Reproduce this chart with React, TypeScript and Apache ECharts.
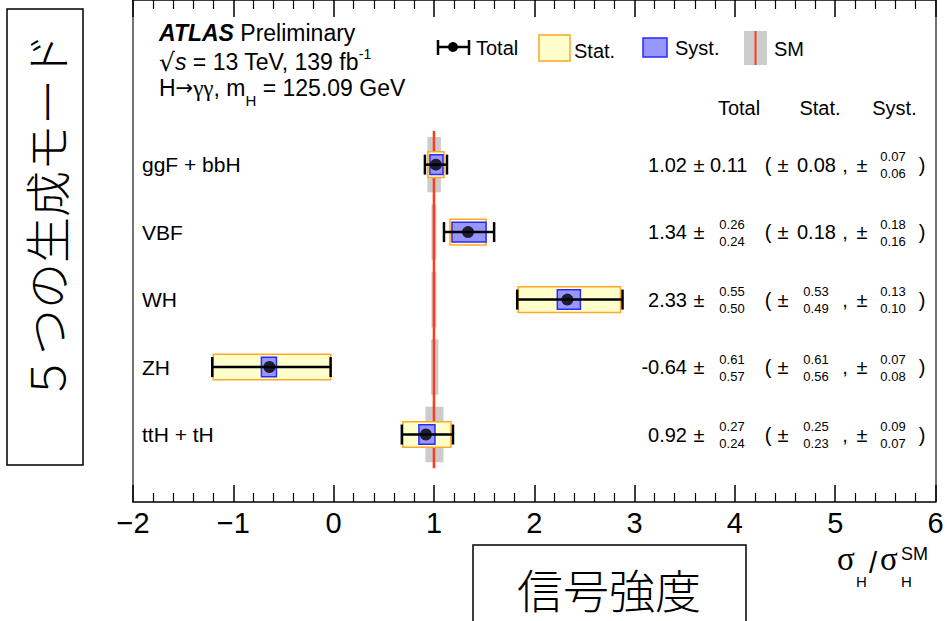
import React, { useEffect, useRef } from "react";
import * as echarts from "echarts";

// Production modes, top to bottom, and their row positions on the value y axis
const modes = ["ggF + bbH", "VBF", "WH", "ZH", "ttH + tH"];
const rowPos = [5, 4, 3, 2, 1];

// Measured signal strengths and their uncertainties
const mu = [1.02, 1.34, 2.33, -0.64, 0.92];
const totUp = [0.11, 0.26, 0.55, 0.61, 0.27];
const totDn = [0.11, 0.24, 0.5, 0.57, 0.24];
const statUp = [0.08, 0.18, 0.53, 0.61, 0.25];
const statDn = [0.08, 0.18, 0.49, 0.56, 0.23];
const systUp = [0.07, 0.18, 0.13, 0.07, 0.09];
const systDn = [0.06, 0.16, 0.1, 0.08, 0.07];

// SM prediction and its theory uncertainty band per mode
const smValue = 1;
const smUp = [0.07, 0.025, 0.025, 0.045, 0.095];
const smDn = [0.065, 0.025, 0.025, 0.03, 0.085];
const smLineSpan = [0.5, 5.5];

const xRange = [-2, 6];
const yRange = [0, 7.44];
const tableHeads = ["Total", "Stat.", "Syst."];

const FONT = "'Liberation Sans', Arial, Helvetica, sans-serif";
const SERIF = "'Liberation Serif', 'Times New Roman', serif";
const CJK = "'Noto Sans CJK JP', sans-serif";

const C_STAT_FILL = "#ffffcc";
const C_STAT_LINE = "#ffa726";
const C_SYST_FILL = "#9797ff";
const C_SYST_LINE = "#2a2aff";
const C_SM_BAND = "#cccccc";
const C_SM_LINE = "#ff3b1f";

const fmt = (v: number) => v.toFixed(2);

function box(api: any, x0: number, x1: number, yc: number, half: number) {
  const a = api.coord([x0, yc + half]);
  const b = api.coord([x1, yc - half]);
  return { x: a[0], y: a[1], width: b[0] - a[0], height: b[1] - a[1] };
}

function txt(text: string, x: number, y: number, size: number, align: string, extra: any = {}) {
  return {
    type: "text",
    x,
    y,
    silent: true,
    style: {
      text,
      fontSize: size,
      fontFamily: FONT,
      fill: "#000",
      align,
      verticalAlign: "middle",
      ...extra,
    },
  };
}

// "± a" when symmetric, stacked +up / -down otherwise
function plusMinus(up: number, dn: number, yc: number, symLeft: number, asymCenter: number) {
  if (up === dn) return [txt(fmt(up), symLeft, yc, 20, "left")];
  return [txt(fmt(up), asymCenter, yc - 8, 13, "center"), txt(fmt(dn), asymCenter, yc + 9, 13, "center")];
}

export default function App() {
  const ref = useRef<HTMLDivElement>(null);

  useEffect(() => {
    if (!ref.current) return;
    const chart = echarts.init(ref.current, undefined, { renderer: "svg" });
    const rows = modes.map((_, i) => [mu[i], rowPos[i]]);

    const option: any = {
      animation: false,
      backgroundColor: "#fff",
      grid: { left: 133, right: 12.5, top: -4, bottom: 119, containLabel: false },
      xAxis: [
        {
          type: "value",
          position: "bottom",
          min: xRange[0],
          max: xRange[1],
          interval: 1,
          axisLine: { show: true, onZero: false, lineStyle: { color: "#000", width: 1.5 } },
          axisTick: { show: true, inside: true, length: 17, lineStyle: { color: "#000", width: 1.5 } },
          minorTick: { show: true, splitNumber: 5, length: 9, lineStyle: { color: "#000", width: 1.2 } },
          splitLine: { show: false },
          axisLabel: {
            show: true,
            color: "#000",
            fontSize: 29,
            fontFamily: FONT,
            margin: 6,
            formatter: (v: number) => (v < 0 ? "\u2212" + Math.abs(v) : String(v)),
          },
        },
        {
          type: "value",
          position: "top",
          min: xRange[0],
          max: xRange[1],
          interval: 1,
          axisLine: { show: true, onZero: false, lineStyle: { color: "#000", width: 1.5 } },
          axisTick: { show: true, inside: true, length: 17, lineStyle: { color: "#000", width: 1.5 } },
          minorTick: { show: true, splitNumber: 5, length: 9, lineStyle: { color: "#000", width: 1.2 } },
          splitLine: { show: false },
          axisLabel: { show: false },
        },
      ],
      yAxis: [
        {
          type: "value",
          position: "left",
          min: yRange[0],
          max: yRange[1],
          axisLine: { show: true, onZero: false, lineStyle: { color: "#444", width: 1.5 } },
          axisTick: { show: false },
          axisLabel: { show: false },
          splitLine: { show: false },
        },
        {
          type: "value",
          position: "right",
          min: yRange[0],
          max: yRange[1],
          axisLine: { show: true, onZero: false, lineStyle: { color: "#444", width: 1.5 } },
          axisTick: { show: false },
          axisLabel: { show: false },
          splitLine: { show: false },
        },
      ],
      series: [
        // SM theory uncertainty band
        {
          type: "custom",
          silent: true,
          data: rowPos.map((y) => [smValue, y]),
          renderItem: (params: any, api: any) => {
            const i = params.dataIndex;
            return {
              type: "rect",
              shape: box(api, smValue - smDn[i], smValue + smUp[i], rowPos[i], 0.41),
              style: { fill: C_SM_BAND },
            };
          },
        },
        // SM = 1 line
        {
          type: "custom",
          silent: true,
          data: [[smValue, smLineSpan[0], smLineSpan[1]]],
          renderItem: (params: any, api: any) => {
            const a = api.coord([api.value(0), api.value(1)]);
            const b = api.coord([api.value(0), api.value(2)]);
            return {
              type: "line",
              shape: { x1: a[0], y1: a[1], x2: b[0], y2: b[1] },
              style: { stroke: C_SM_LINE, lineWidth: 2.5 },
            };
          },
        },
        // Statistical uncertainty boxes
        {
          type: "custom",
          silent: true,
          data: rows,
          renderItem: (params: any, api: any) => {
            const i = params.dataIndex;
            return {
              type: "rect",
              shape: box(api, mu[i] - statDn[i], mu[i] + statUp[i], rowPos[i], 0.19),
              style: { fill: C_STAT_FILL, stroke: C_STAT_LINE, lineWidth: 1.5 },
            };
          },
        },
        // Systematic uncertainty boxes
        {
          type: "custom",
          silent: true,
          data: rows,
          renderItem: (params: any, api: any) => {
            const i = params.dataIndex;
            return {
              type: "rect",
              shape: box(api, mu[i] - systDn[i], mu[i] + systUp[i], rowPos[i], 0.145),
              style: { fill: C_SYST_FILL, stroke: C_SYST_LINE, lineWidth: 1.5 },
            };
          },
        },
        // Total uncertainty error bars with end caps
        {
          type: "custom",
          silent: true,
          data: rows,
          renderItem: (params: any, api: any) => {
            const i = params.dataIndex;
            const l = api.coord([mu[i] - totDn[i], rowPos[i]]);
            const r = api.coord([mu[i] + totUp[i], rowPos[i]]);
            const capH = 10;
            const st = { stroke: "#000", lineWidth: 2.5 };
            return {
              type: "group",
              children: [
                { type: "line", shape: { x1: l[0], y1: l[1], x2: r[0], y2: r[1] }, style: st },
                { type: "line", shape: { x1: l[0], y1: l[1] - capH, x2: l[0], y2: l[1] + capH }, style: st },
                { type: "line", shape: { x1: r[0], y1: r[1] - capH, x2: r[0], y2: r[1] + capH }, style: st },
              ],
            };
          },
        },
        // Central values
        {
          type: "scatter",
          silent: true,
          symbol: "circle",
          symbolSize: 12,
          itemStyle: { color: "#000" },
          data: rows,
        },
        // Row labels and the numeric table
        {
          type: "custom",
          silent: true,
          data: rows,
          renderItem: (params: any, api: any) => {
            const i = params.dataIndex;
            const yc = api.coord([0, rowPos[i]])[1];
            const children: any[] = [
              txt(modes[i], 142, yc, 21, "left"),
              txt(fmt(mu[i]), 687, yc, 20, "right"),
              txt("±", 699, yc, 20, "center"),
              ...plusMinus(totUp[i], totDn[i], yc, 710, 732),
              txt("(", 768, yc, 20, "center"),
              txt("±", 783, yc, 20, "center"),
              ...plusMinus(statUp[i], statDn[i], yc, 797, 816),
              txt(",", 845, yc, 20, "center"),
              txt("±", 862, yc, 20, "center"),
              ...plusMinus(systUp[i], systDn[i], yc, 876, 893),
              txt(")", 922, yc, 20, "center"),
            ];
            return { type: "group", children };
          },
        },
      ],
      graphic: [
        // Experiment label
        {
          type: "text",
          x: 159,
          y: 33,
          style: {
            text: "{b|ATLAS} Preliminary",
            fontSize: 23,
            fontFamily: FONT,
            fill: "#000",
            verticalAlign: "middle",
            rich: { b: { fontSize: 23, fontFamily: FONT, fontWeight: "bold", fontStyle: "italic" } },
          },
        },
        {
          type: "text",
          x: 159,
          y: 62,
          style: {
            text: "{rt|√}{it|s} = 13 TeV, 139 fb{sup|-1}",
            fontSize: 23,
            lineHeight: 30,
            fontFamily: FONT,
            fill: "#000",
            verticalAlign: "middle",
            rich: {
              rt: { fontSize: 25, lineHeight: 30, fontFamily: "'DejaVu Sans', sans-serif" },
              it: { fontSize: 23, lineHeight: 30, fontFamily: FONT, fontStyle: "italic" },
              sup: { fontSize: 14, lineHeight: 12, fontFamily: FONT, verticalAlign: "top" },
            },
          },
        },
        {
          type: "text",
          x: 159,
          y: 88,
          style: {
            text: "H{ar|→}{g|γγ}, m{sub|H} = 125.09 GeV",
            fontSize: 23,
            lineHeight: 40,
            fontFamily: FONT,
            fill: "#000",
            verticalAlign: "middle",
            rich: {
              ar: { fontSize: 21, lineHeight: 40, fontFamily: "'DejaVu Sans', sans-serif" },
              g: { fontSize: 23, lineHeight: 40, fontFamily: SERIF },
              sub: { fontSize: 15, lineHeight: 10, fontFamily: FONT, verticalAlign: "bottom" },
            },
          },
        },
        // Legend: total
        { type: "line", shape: { x1: 438, y1: 47, x2: 469, y2: 47 }, style: { stroke: "#000", lineWidth: 2.5 } },
        { type: "line", shape: { x1: 438, y1: 40, x2: 438, y2: 55 }, style: { stroke: "#000", lineWidth: 2.5 } },
        { type: "line", shape: { x1: 469, y1: 40, x2: 469, y2: 55 }, style: { stroke: "#000", lineWidth: 2.5 } },
        { type: "circle", shape: { cx: 453, cy: 47, r: 5 }, style: { fill: "#000" } },
        txt("Total", 476, 48, 20, "left"),
        // Legend: stat
        {
          type: "rect",
          shape: { x: 539, y: 35, width: 31, height: 26 },
          style: { fill: C_STAT_FILL, stroke: C_STAT_LINE, lineWidth: 1.5 },
        },
        txt("Stat.", 574, 51, 20, "left"),
        // Legend: syst
        {
          type: "rect",
          shape: { x: 643, y: 38, width: 24, height: 19 },
          style: { fill: C_SYST_FILL, stroke: C_SYST_LINE, lineWidth: 1.5 },
        },
        txt("Syst.", 675, 48, 20, "left"),
        // Legend: SM
        { type: "rect", shape: { x: 744, y: 31, width: 23, height: 34 }, style: { fill: C_SM_BAND } },
        { type: "line", shape: { x1: 755.5, y1: 31, x2: 755.5, y2: 65 }, style: { stroke: C_SM_LINE, lineWidth: 2 } },
        txt("SM", 774, 49, 20, "left"),
        // Table header
        ...tableHeads.map((h, k) => txt(h, [739, 820, 894.5][k], 108, 20, "center")),
        // Axis title σ_H / σ_H^SM
        txt("σ", 837, 559, 33, "left", { fontFamily: SERIF }),
        txt("H", 856, 581, 15, "left"),
        txt("/", 869, 563, 29, "left"),
        txt("σ", 880, 559, 33, "left", { fontFamily: SERIF }),
        txt("SM", 901, 554, 18, "left"),
        txt("H", 901, 581, 15, "left"),
        // Annotation boxes
        {
          type: "rect",
          shape: { x: 7, y: 9, width: 76, height: 456 },
          style: { fill: "#fff", stroke: "#000", lineWidth: 1.5 },
        },
        {
          type: "text",
          x: 45,
          y: 217,
          rotation: Math.PI / 2,
          style: {
            text: "５つの生成モード",
            fontSize: 46,
            fontFamily: CJK,
            fontWeight: 300,
            fill: "#000",
            align: "center",
            verticalAlign: "middle",
          },
        },
        {
          type: "rect",
          shape: { x: 473, y: 545, width: 273, height: 100 },
          style: { fill: "#fff", stroke: "#000", lineWidth: 1.5 },
        },
        {
          type: "text",
          x: 609,
          y: 588,
          style: {
            text: "信号強度",
            fontSize: 46,
            fontFamily: CJK,
            fontWeight: 300,
            fill: "#000",
            align: "center",
            verticalAlign: "middle",
          },
        },
      ],
    };

    chart.setOption(option);
    return () => chart.dispose();
  }, []);

  return (
    <div
      ref={ref}
      style={{ position: "absolute", left: 0, top: 0, width: 948, height: 621, background: "#fff" }}
    />
  );
}
